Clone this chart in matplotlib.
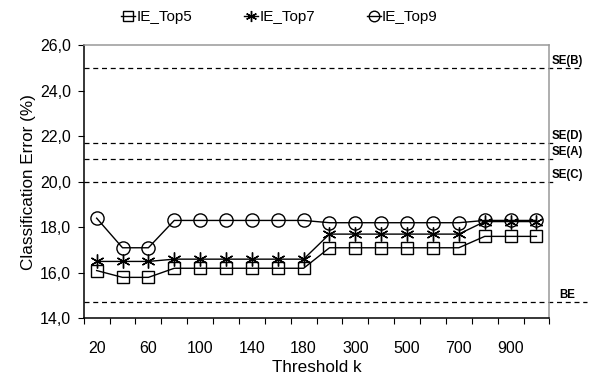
import matplotlib
matplotlib.use("Agg")
import matplotlib.pyplot as plt
from matplotlib.ticker import FuncFormatter

plt.rcParams['font.family'] = ['Liberation Sans', 'DejaVu Sans']

# categories on the x axis
thresholds = [20, 40, 60, 80, 100, 120, 140, 160, 180, 200,
              300, 400, 500, 600, 700, 800, 900, 1000]
top5 = [16.1, 15.8, 15.8, 16.2, 16.2, 16.2, 16.2, 16.2, 16.2,
        17.1, 17.1, 17.1, 17.1, 17.1, 17.1, 17.6, 17.6, 17.6]
top7 = [16.5, 16.5, 16.5, 16.6, 16.6, 16.6, 16.6, 16.6, 16.6,
        17.7, 17.7, 17.7, 17.7, 17.7, 17.7, 18.25, 18.25, 18.25]
top9 = [18.4, 17.1, 17.1, 18.3, 18.3, 18.3, 18.3, 18.3, 18.3,
        18.2, 18.2, 18.2, 18.2, 18.2, 18.2, 18.3, 18.3, 18.3]

ref_names = ["SE(B)", "SE(D)", "SE(A)", "SE(C)", "BE"]
ref_values = [25.0, 21.7, 21.0, 20.0, 14.7]

fig = plt.figure(figsize=(5.92, 3.79), dpi=100)
ax = fig.add_axes([0.1414, 0.160, 0.7866, 0.721])

x = list(range(len(thresholds)))
l5, = ax.plot(x, top5, color='black', lw=1, marker='s', ms=8.5,
              mfc='none', mec='black', mew=1, label='IE_Top5')
l7, = ax.plot(x, top7, color='black', lw=1, marker=(6, 2, 0), ms=10,
              mec='black', mew=1, label='IE_Top7')
l9, = ax.plot(x, top9, color='black', lw=1, marker='o', ms=9.5,
              mfc='none', mec='black', mew=1, label='IE_Top9')

# reference levels, dashed, running a bit past the frame with labels
ends = {"SE(B)": 1.07, "BE": 1.08}
for name, val in zip(ref_names, ref_values):
    ax.plot([0, ends.get(name, 1.01)], [val, val], transform=ax.get_yaxis_transform(),
            color='black', lw=0.9, ls=(0, (4, 3)), clip_on=False)
    ax.text(1.005 if name != "BE" else 1.022, val + 0.05, name,
            transform=ax.get_yaxis_transform(), fontsize=8.3,
            fontweight='bold', ha='left', va='bottom')

ax.set_xlim(-0.5, len(thresholds) - 0.5)
ax.set_ylim(14, 26)
ax.set_yticks(range(14, 27, 2))
ax.yaxis.set_major_formatter(FuncFormatter(lambda v, p: f"{v:.1f}".replace('.', ',')))
ax.tick_params(axis='y', direction='out', length=4, width=0.8, pad=5, labelsize=11.5)

ax.set_xticks(x[::2])
ax.set_xticklabels([str(t) for t in thresholds[::2]])
ax.set_xticks([i - 0.5 for i in range(len(thresholds) + 1)], minor=True)
ax.tick_params(axis='x', which='major', length=0, pad=16, labelsize=11.5)
ax.tick_params(axis='x', which='minor', direction='out', length=4, width=0.8)

for s in ['left', 'bottom']:
    ax.spines[s].set_color('black')
    ax.spines[s].set_linewidth(1.1)
for s in ['top', 'right']:
    ax.spines[s].set_color('#999999')
    ax.spines[s].set_linewidth(1.1)

ax.set_xlabel('Threshold k', fontsize=12.3, labelpad=3)
ax.set_ylabel('Classification Error (%)', fontsize=12.3, labelpad=3)

fig.legend(handles=[l5, l7, l9], loc='upper center', bbox_to_anchor=(0.472, 1.01),
           ncol=3, frameon=False, fontsize=11, handlelength=0.9,
           handletextpad=0.1, columnspacing=3.4, markerscale=0.8)

fig.savefig('out.png', dpi=100)
